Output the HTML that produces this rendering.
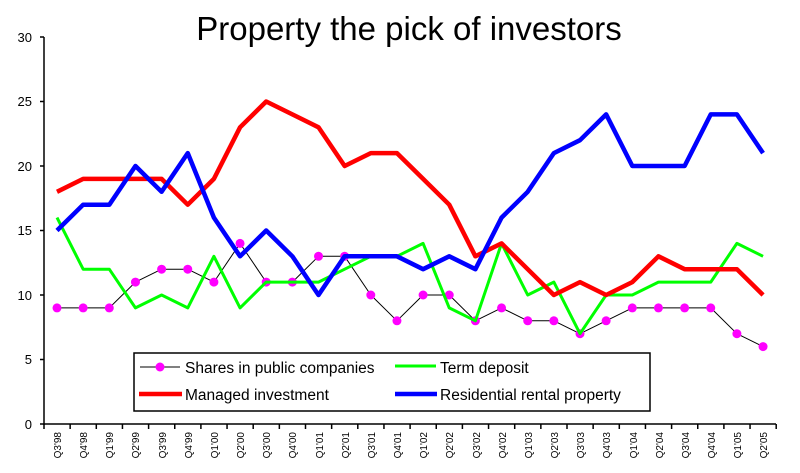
<!DOCTYPE html>
<html><head><meta charset="utf-8"><style>
html,body{margin:0;padding:0;background:#fff;width:800px;height:473px;overflow:hidden}
text{font-family:"Liberation Sans",Arial,sans-serif}
</style></head><body>
<svg id="c" width="800" height="473" xmlns="http://www.w3.org/2000/svg">
<text x="409" y="40" font-size="33" text-anchor="middle">Property the pick of investors</text>
<g font-size="13" text-anchor="end" fill="#000">
<text x="32" y="429">0</text><text x="32" y="364">5</text><text x="32" y="300">10</text>
<text x="32" y="235">15</text><text x="32" y="171">20</text><text x="32" y="106">25</text><text x="32" y="42">30</text>
</g>
<g stroke="#000" stroke-width="1.5">
<line x1="44" y1="37" x2="44" y2="425"/>
<line x1="40" y1="424" x2="776" y2="424"/>
<line x1="40" y1="37" x2="44" y2="37"/><line x1="40" y1="101.5" x2="44" y2="101.5"/><line x1="40" y1="166" x2="44" y2="166"/>
<line x1="40" y1="230.5" x2="44" y2="230.5"/><line x1="40" y1="295" x2="44" y2="295"/><line x1="40" y1="359.5" x2="44" y2="359.5"/>
</g>
<g id="ticks" stroke="#000" stroke-width="1.5"></g>
<g id="xl" font-size="10" text-anchor="end">
<text transform="translate(61,432) rotate(-90)">Q3'98</text>
<text transform="translate(87,432) rotate(-90)">Q4'98</text>
<text transform="translate(113,432) rotate(-90)">Q1'99</text>
<text transform="translate(139,432) rotate(-90)">Q2'99</text>
<text transform="translate(166,432) rotate(-90)">Q3'99</text>
<text transform="translate(192,432) rotate(-90)">Q4'99</text>
<text transform="translate(218,432) rotate(-90)">Q1'00</text>
<text transform="translate(244,432) rotate(-90)">Q2'00</text>
<text transform="translate(270,432) rotate(-90)">Q3'00</text>
<text transform="translate(296,432) rotate(-90)">Q4'00</text>
<text transform="translate(323,432) rotate(-90)">Q1'01</text>
<text transform="translate(349,432) rotate(-90)">Q2'01</text>
<text transform="translate(375,432) rotate(-90)">Q3'01</text>
<text transform="translate(401,432) rotate(-90)">Q4'01</text>
<text transform="translate(427,432) rotate(-90)">Q1'02</text>
<text transform="translate(453,432) rotate(-90)">Q2'02</text>
<text transform="translate(480,432) rotate(-90)">Q3'02</text>
<text transform="translate(506,432) rotate(-90)">Q4'02</text>
<text transform="translate(532,432) rotate(-90)">Q1'03</text>
<text transform="translate(558,432) rotate(-90)">Q2'03</text>
<text transform="translate(584,432) rotate(-90)">Q3'03</text>
<text transform="translate(610,432) rotate(-90)">Q4'03</text>
<text transform="translate(637,432) rotate(-90)">Q1'04</text>
<text transform="translate(663,432) rotate(-90)">Q2'04</text>
<text transform="translate(689,432) rotate(-90)">Q3'04</text>
<text transform="translate(715,432) rotate(-90)">Q4'04</text>
<text transform="translate(741,432) rotate(-90)">Q1'05</text>
<text transform="translate(767,432) rotate(-90)">Q2'05</text>
</g>
<g id="series"></g>
<rect x="134" y="353" width="516" height="58" fill="#fff" stroke="#000" stroke-width="1.5"/>
<line x1="140" y1="367" x2="180" y2="367" stroke="#000" stroke-width="1"/>
<circle cx="160" cy="367" r="4.5" fill="#f0f"/>
<line x1="395" y1="366" x2="436" y2="366" stroke="#0f0" stroke-width="3"/>
<line x1="139" y1="394" x2="182" y2="394" stroke="#f00" stroke-width="4.5"/>
<line x1="395" y1="394" x2="437" y2="394" stroke="#00f" stroke-width="4.5"/>
<g font-size="15.5"><text x="185" y="373">Shares in public companies</text><text x="440" y="373">Term deposit</text>
<text x="185" y="400">Managed investment</text><text x="440" y="400">Residential rental property</text></g>
</svg>
<script>
var X=i=>57+i*26.15, Y=v=>424-v*12.9, NS="http://www.w3.org/2000/svg";
var t=document.getElementById('ticks');
for(var i=0;i<=28;i++){var l=document.createElementNS(NS,'line');var x=44+i*26.15;l.setAttribute('x1',x);l.setAttribute('x2',x);l.setAttribute('y1',424);l.setAttribute('y2',429);t.appendChild(l);}
var S=[9,9,9,11,12,12,11,14,11,11,13,13,10,8,10,10,8,9,8,8,7,8,9,9,9,9,7,6],
T=[16,12,12,9,10,9,13,9,11,11,11,12,13,13,14,9,8,14,10,11,7,10,10,11,11,11,14,13],
M=[18,19,19,19,19,17,19,23,25,24,23,20,21,21,19,17,13,14,12,10,11,10,11,13,12,12,12,10],
R=[15,17,17,20,18,21,16,13,15,13,10,13,13,13,12,13,12,16,18,21,22,24,20,20,20,24,24,21];
var g=document.getElementById('series');
function pl(d,c,w){var p=document.createElementNS(NS,'polyline');p.setAttribute('points',d.map((v,i)=>X(i)+','+Y(v)).join(' '));p.setAttribute('fill','none');p.setAttribute('stroke',c);p.setAttribute('stroke-width',w);p.setAttribute('stroke-linejoin','round');g.appendChild(p);}
pl(S,'#000',1);
S.forEach((v,i)=>{var c=document.createElementNS(NS,'circle');c.setAttribute('cx',X(i));c.setAttribute('cy',Y(v));c.setAttribute('r',4.5);c.setAttribute('fill','#f0f');g.appendChild(c);});
pl(T,'#0f0',3);pl(M,'#f00',4.5);pl(R,'#00f',4.5);
</script>
</body></html>
